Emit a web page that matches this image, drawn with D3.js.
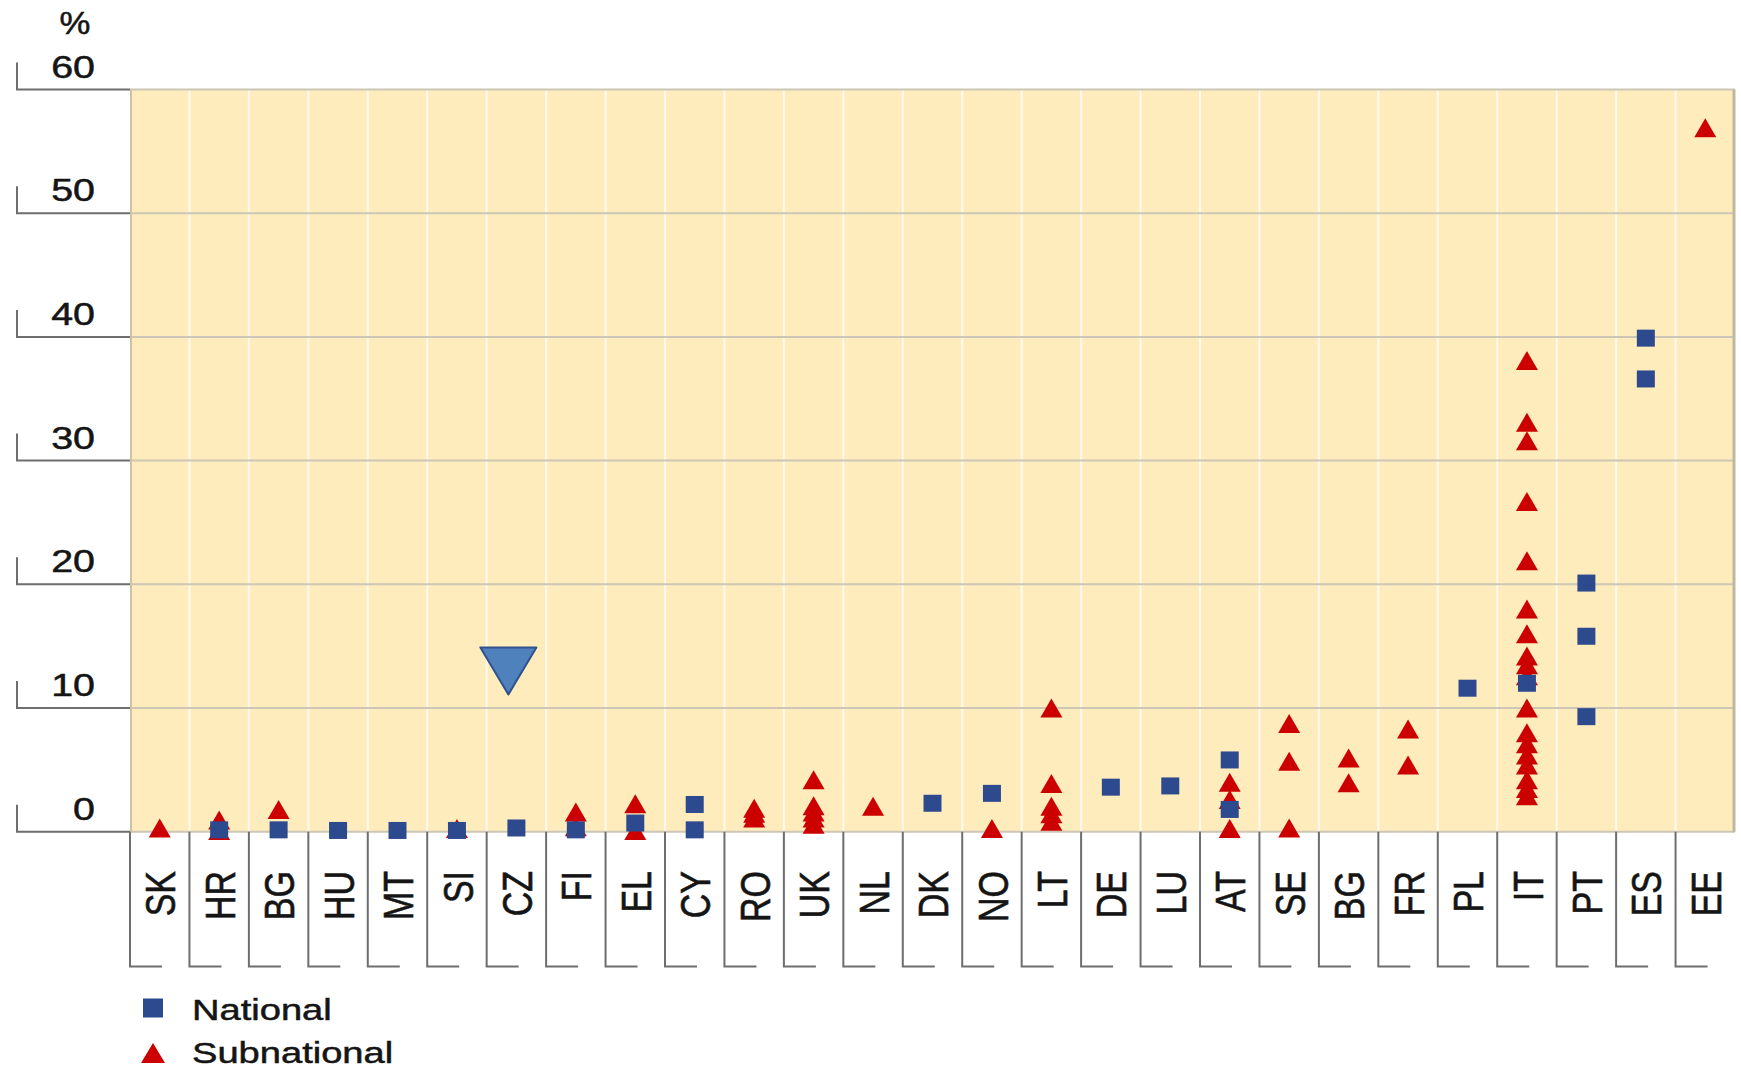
<!DOCTYPE html>
<html>
<head>
<meta charset="utf-8">
<script src="https://cdn.jsdelivr.net/npm/d3@7"></script>
<style>
  body { margin: 0; background: #fff; }
  text { font-family: "Liberation Sans", Arial, sans-serif; fill: #151515; stroke: #151515; stroke-width: 0.5px; }
</style>
</head>
<body>
<div class="chart"></div>
<script>
const width = 1741,
      height = 1068;

// data
const categories = ["SK","HR","BG","HU","MT","SI","CZ","FI","EL","CY","RO","UK","NL","DK",
                    "NO","LT","DE","LU","AT","SE","BG","FR","PL","IT","PT","ES","EE"];
const national = [[], [0.15], [0.15], [0.1], [0.1], [0.1], [0.3], [0.15], [0.7], [2.2, 0.15],
                  [], [], [], [2.3], [3.1], [], [3.6], [3.7], [5.8, 1.8], [], [], [], [11.6],
                  [12.0], [20.1, 15.8, 9.3], [39.9, 36.6], []];
const subnational = [[0.3], [0.95, 0.1], [1.8], [], [], [0.25], [], [1.6, 0.4], [2.25, 0.1], [],
                     [1.9, 1.5, 1.1], [4.2, 2.1, 1.6, 1.1, 0.6], [2.05], [], [0.25],
                     [10.0, 3.9, 2.05, 1.45, 0.85], [], [], [4.0, 2.6, 0.25], [8.75, 5.7, 0.3],
                     [5.95, 3.95], [8.3, 5.4], [],
                     [38.1, 33.1, 31.6, 26.7, 21.9, 18.0, 16.0, 14.2, 13.5, 12.6, 10.0, 8.0, 7.1, 6.2, 5.4, 4.2, 3.5, 2.9],
                     [], [], [56.9]];
const yTicks = [0, 10, 20, 30, 40, 50, 60];
const legendLabels = ["National", "Subnational"];
const arrowCountry = 6;          // CZ
const arrowRange = [14.9, 11.1]; // top edge, tip

const blue = "#2e4a8e", red = "#cc0000";
const stretch = 1.27; // the text in the original is wider than it is tall

const svg = d3.select(".chart").append("svg")
    .attr("width", width)
    .attr("height", height);

const x = d3.scaleBand()
    .domain(d3.range(categories.length))
    .range([130, 1735])
    .padding(0);
const y = d3.scaleLinear().domain([0, 60]).range([831.7, 89.5]);
const bw = x.bandwidth();

//plot background
svg.append("rect")
  .attr("x", 130).attr("y", y(60))
  .attr("width", 1735 - 130).attr("height", y(0) - y(60))
  .style("fill", "#ffecbc");

//vertical white separators inside the plot
svg.selectAll("line.vsep")
  .data(d3.range(1, categories.length))
  .enter().append("line")
    .attr("class", "vsep")
    .attr("x1", d => x(d)).attr("x2", d => x(d))
    .attr("y1", y(60)).attr("y2", y(0))
    .style("stroke", "#fffaf0").style("stroke-width", 2);

//horizontal gridlines
svg.selectAll("line.grid")
  .data(yTicks)
  .enter().append("line")
    .attr("class", "grid")
    .attr("x1", 130).attr("x2", 1735)
    .attr("y1", d => y(d)).attr("y2", d => y(d))
    .style("stroke", "#cbc6b6").style("stroke-width", 2);

//plot borders left / right
svg.append("line").attr("x1", 131).attr("x2", 131).attr("y1", y(60)).attr("y2", y(0))
  .style("stroke", "#cfc2a2").style("stroke-width", 2);
svg.append("line").attr("x1", 1734).attr("x2", 1734).attr("y1", y(60)).attr("y2", y(0))
  .style("stroke", "#bfb7a0").style("stroke-width", 3);

//y axis brackets
const yAxis = svg.selectAll("g.ytick")
  .data(yTicks)
  .enter().append("g")
    .attr("class", "ytick");
yAxis.append("path")
  .attr("d", d => "M17," + (y(d) - 27) + " V" + y(d) + " H130")
  .style("fill", "none").style("stroke", "#6e6e6e").style("stroke-width", 2);
yAxis.append("text")
  .attr("transform", d => "translate(95," + (y(d) - 12) + ") scale(" + stretch + ",1)")
  .style("text-anchor", "end").style("font-size", "31px")
  .text(d => d);

svg.append("text")
  .attr("transform", "translate(75,34) scale(1.12,1)")
  .style("text-anchor", "middle").style("font-size", "31px")
  .text("%");

//category label boxes
const cat = svg.selectAll("g.cat")
  .data(categories)
  .enter().append("g")
    .attr("class", "cat");
cat.append("path")
  .attr("d", (d, i) => "M" + x(i) + "," + y(0) + " V966.5 H" + (x(i) + 32))
  .style("fill", "none").style("stroke", "#6e6e6e").style("stroke-width", 2);
cat.append("text")
  .attr("transform", (d, i) => "translate(" + (x(i) + bw / 2) + ",871) scale(" + stretch + ",1) rotate(-90)")
  .attr("dy", "0.36em")
  .style("text-anchor", "end").style("font-size", "34px")
  .text(d => d);

//markers
function triangle(w, h) {
  return "M0," + (-h / 2) + " L" + (w / 2) + "," + (h / 2) + " L" + (-w / 2) + "," + (h / 2) + " Z";
}
const subPts = subnational.flatMap((vals, i) => vals.map(v => ({i, v})));
const natPts = national.flatMap((vals, i) => vals.map(v => ({i, v})));

svg.selectAll("path.sub")
  .data(subPts)
  .enter().append("path")
    .attr("class", "sub")
    .attr("d", triangle(22, 19))
    .attr("transform", d => "translate(" + (x(d.i) + bw / 2) + "," + y(d.v) + ")")
    .style("fill", red);

svg.selectAll("rect.nat")
  .data(natPts)
  .enter().append("rect")
    .attr("class", "nat")
    .attr("x", d => x(d.i) + bw / 2 - 9)
    .attr("y", d => y(d.v) - 8.5)
    .attr("width", 18).attr("height", 17)
    .style("fill", blue);

//blue arrow marker over CZ
const ax = x(arrowCountry) + bw / 2 - 8;
svg.append("path")
  .attr("d", "M" + (ax - 28) + "," + y(arrowRange[0]) + " L" + (ax + 28) + "," + y(arrowRange[0]) +
             " L" + ax + "," + y(arrowRange[1]) + " Z")
  .style("fill", "#4f81bd").style("stroke", "#2f528f").style("stroke-width", 2)
  .style("stroke-linejoin", "round");

//legend
const legend = svg.selectAll("g.legend")
  .data(legendLabels)
  .enter().append("g")
    .attr("class", "legend")
    .attr("transform", (d, i) => "translate(153," + (1008 + i * 45) + ")");
legend.append("path")
  .attr("d", (d, i) => i == 0 ? "M-10,-9.5 h20 v19 h-20 Z" : triangle(24, 20))
  .style("fill", (d, i) => i == 0 ? blue : red);
legend.append("text")
  .attr("transform", (d, i) => "translate(39," + (i == 0 ? 12 : 10) + ") scale(" + stretch + ",1)")
  .style("font-size", "30px")
  .text(d => d);
</script>
</body>
</html>
